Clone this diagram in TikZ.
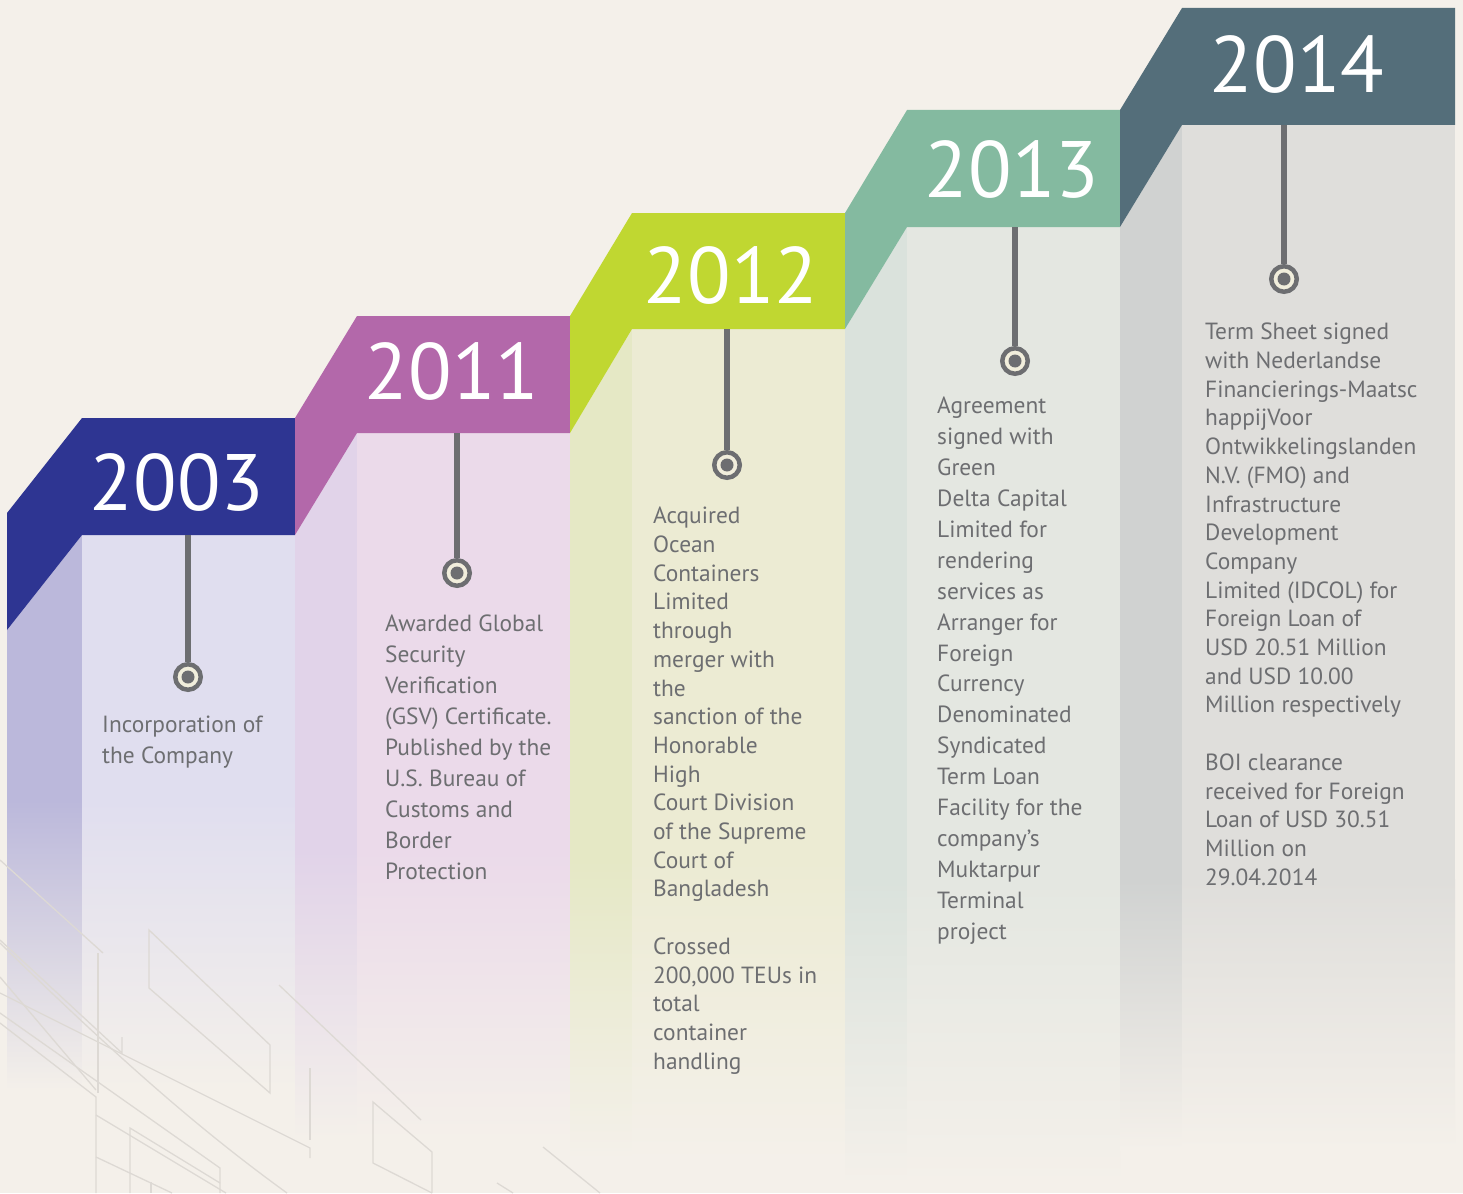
\documentclass[tikz,border=0pt]{standalone}
\usepackage{fontspec}
\setmainfont{PT Sans}
\definecolor{bg}{HTML}{F4F0EA}
\definecolor{txtgray}{HTML}{6D6E71}
\definecolor{pingray}{HTML}{6D6E71}
\definecolor{ringcream}{HTML}{F1EEDC}
\definecolor{decogray}{HTML}{DDD9D4}
% header / front face / side face colours of each step
\definecolor{c1h}{HTML}{2E3592}\definecolor{c1f}{HTML}{E0DEEF}\definecolor{c1s}{HTML}{BBB8DB}
\definecolor{c2h}{HTML}{B368AA}\definecolor{c2f}{HTML}{EBDAEA}\definecolor{c2s}{HTML}{E1D3E9}
\definecolor{c3h}{HTML}{C0D731}\definecolor{c3f}{HTML}{ECEBD3}\definecolor{c3s}{HTML}{E5E8C5}
\definecolor{c4h}{HTML}{84BAA0}\definecolor{c4f}{HTML}{E4E7E1}\definecolor{c4s}{HTML}{DAE2DC}
\definecolor{c5h}{HTML}{546E7A}\definecolor{c5f}{HTML}{DFDEDB}\definecolor{c5s}{HTML}{D0D2D1}
\begin{document}
\begin{tikzpicture}[x=1pt,y=-1pt,
  desc/.style={anchor=north west, inner sep=0pt, align=left, text=txtgray},
  year/.style={text=white, inner sep=0pt, anchor=base, font=\fontsize{80}{80}\selectfont},
  stem/.style={draw=pingray, line width=6pt},
  marker/.style={circle, fill=ringcream, draw=pingray, line width=4.5pt,
    minimum size=25.5pt, inner sep=0pt,
    path picture={\fill[pingray] (path picture bounding box.center) circle[radius=6.5pt];}},
  deco/.style={draw=decogray, line width=1.3pt}]

% canvas
\fill[bg] (0,0) rectangle (1463,1193);
\useasboundingbox (0,0) rectangle (1463,1193);

% steps: side-left, front-left, front-right, previous top/bottom, own top/bottom,
% start and end of the fade, colours
\foreach \S/\L/\R/\Tp/\Bp/\T/\B/\Fs/\Fe/\hc/\fc/\sc in {
    7/82/295/513/630/418/535/800/1090/c1h/c1f/c1s,
    295/357/570/418/535/316/433/850/1140/c2h/c2f/c2s,
    570/632/845/316/433/213/329/860/1160/c3h/c3f/c3s,
    845/907/1120/213/329/110/227/880/1185/c4h/c4f/c4s,
    1120/1182/1455/110/227/8/125/880/1150/c5h/c5f/c5s}{
  % side face
  \fill[\sc] (\S,\Bp) -- (\L,\B) -- (\L,\Fs) -- (\S,\Fs) -- cycle;
  \shade[top color=\sc, bottom color=bg] (\S,\Fs-0.5) rectangle (\L,\Fe);
  % front face
  \fill[\fc] (\L,\B) rectangle (\R,\Fs);
  \shade[top color=\fc, bottom color=bg] (\L,\Fs-0.5) rectangle (\R,\Fe);
  % coloured header band
  \fill[\hc] (\S,\Tp) -- (\L,\T) -- (\R,\T) -- (\R,\B) -- (\L,\B) -- (\S,\Bp) -- cycle;
}

% faint circuit lines in the lower left
\draw[deco] (0,860) -- (103,953);
\draw[deco] (0,940) -- (122,1053) -- (122,1037);
\draw[deco] (149,930) -- (149,988) -- (270,1093) -- (270,1045) -- cycle;
\draw[deco] (98,953) -- (98,1093);
\draw[deco] (0,977) -- (96,1090);
\draw[deco] (0,993) -- (310,1148) -- (310,1158);
\draw[deco] (0,1013) -- (220,1168) -- (220,1193);
\draw[deco] (0,1023) -- (96,1097) -- (96,1193);
\draw[deco] (96,1115) -- (226,1193);
\draw[deco] (96,1157) -- (172,1193);
\draw[deco] (130,1193) -- (130,1128) -- (220,1183);
\draw[deco] (151,1182) -- (151,1193);
\draw[deco] (0,943) .. controls (120,1060) and (200,1130) .. (287,1193);
\draw[deco] (279,985) -- (421,1120);
\draw[deco] (310,1068) -- (310,1140);
\draw[deco] (432,1193) -- (373,1163) -- (373,1102) -- (432,1152) -- (432,1193);
\draw[deco] (497,1183) -- (513,1193);
\draw[deco] (543,1147) -- (600,1193);

% years
\node[year] (y1) at (177,510) {2003};
\node[year] (y2) at (452,399) {2011};
\node[year] (y3) at (731,303) {2012};
\node[year] (y4) at (1012,197) {2013};
\node[year] (y5) at (1297,93) {2014};

% stems and markers
\foreach \i/\x/\top/\y in {1/188/535/677, 2/457/433/573, 3/727/329/465, 4/1015/227/361, 5/1284/125/279}{
  \coordinate (h\i) at (\x,\top);
  \node[marker] (m\i) at (\x,\y) {};
  \draw[stem] (h\i) -- (m\i.north);
}

% descriptions
\node[desc, font=\fontsize{23.4}{31}\selectfont] (t1) at (102,716)
  {Incorporation of\\the Company};
\node[desc, font=\fontsize{23.4}{31}\selectfont] (t2) at (385,615)
  {Awarded Global\\Security\\Verification\\(GSV) Certificate.\\Published by the\\U.S. Bureau of\\Customs and\\Border\\Protection};
\node[desc, font=\fontsize{23.4}{28.7}\selectfont] (t3) at (653,507)
  {Acquired\\Ocean\\Containers\\Limited\\through\\merger with\\the\\sanction of the\\Honorable\\High\\Court Division\\of the Supreme\\Court of\\Bangladesh\\[28.7pt]Crossed\\200,000 TEUs in\\total\\container\\handling};
\node[desc, font=\fontsize{23.4}{30.9}\selectfont] (t4) at (937,397)
  {Agreement\\signed with\\Green\\Delta Capital\\Limited for\\rendering\\services as\\Arranger for\\Foreign\\Currency\\Denominated\\Syndicated\\Term Loan\\Facility for the\\company's\\Muktarpur\\Terminal\\project};
\node[desc, font=\fontsize{23.4}{28.7}\selectfont] (t5) at (1205,323)
  {Term Sheet signed\\with Nederlandse\\Financierings-Maatsc\\happijVoor\\Ontwikkelingslanden\\N.V. (FMO) and\\Infrastructure\\Development\\Company\\Limited (IDCOL) for\\Foreign Loan of\\USD 20.51 Million\\and USD 10.00\\Million respectively\\[28.7pt]BOI clearance\\received for Foreign\\Loan of USD 30.51\\Million on\\29.04.2014};
\end{tikzpicture}
\end{document}
